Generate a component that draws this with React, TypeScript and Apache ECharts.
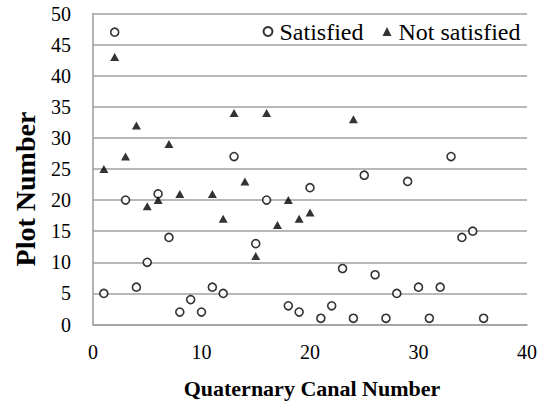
import React, { useEffect, useRef } from "react";
import * as echarts from "echarts";

// Satisfied (open circles): canal number vs plot number
const satisfiedX = [1, 2, 3, 4, 5, 6, 7, 8, 9, 10, 11, 12, 13, 15, 16, 18, 19, 20, 21, 22, 23, 24, 25, 26, 27, 28, 29, 30, 31, 32, 33, 34, 35, 36];
const satisfiedY = [5, 47, 20, 6, 10, 21, 14, 2, 4, 2, 6, 5, 27, 13, 20, 3, 2, 22, 1, 3, 9, 1, 24, 8, 1, 5, 23, 6, 1, 6, 27, 14, 15, 1];

// Not satisfied (filled triangles)
const notSatisfiedX = [1, 2, 3, 4, 5, 6, 7, 8, 11, 12, 13, 14, 15, 16, 17, 18, 19, 20, 24];
const notSatisfiedY = [25, 43, 27, 32, 19, 20, 29, 21, 21, 17, 34, 23, 11, 34, 16, 20, 17, 18, 33];

const seriesNames = ["Satisfied", "Not satisfied"];
const xTitle = "Quaternary Canal Number";
const yTitle = "Plot Number";

const FONT = "Liberation Serif";

export default function App() {
  const ref = useRef<HTMLDivElement>(null);

  useEffect(() => {
    if (!ref.current) return;
    const chart = echarts.init(ref.current, null, { renderer: "svg" });
    const sat = satisfiedX.map((x, i) => [x, satisfiedY[i]]);
    const notSat = notSatisfiedX.map((x, i) => [x, notSatisfiedY[i]]);
    chart.setOption({
      animation: false,
      backgroundColor: "#ffffff",
      textStyle: { fontFamily: FONT },
      grid: { left: 93, right: 19, top: 13.5, bottom: 76.5, containLabel: false },
      xAxis: {
        type: "value",
        min: 0,
        max: 40,
        interval: 10,
        axisLine: { show: true, lineStyle: { color: "#a0a0a0", width: 1.6 } },
        axisTick: { show: false },
        splitLine: { show: false },
        axisLabel: { color: "#000", fontFamily: FONT, fontSize: 20, margin: 17 },
      },
      yAxis: {
        type: "value",
        min: 0,
        max: 50,
        interval: 5,
        axisLine: { show: true, lineStyle: { color: "#a0a0a0", width: 1.6 } },
        axisTick: { show: false },
        splitLine: { show: true, lineStyle: { color: "#a0a0a0", width: 1.6 } },
        axisLabel: { color: "#000", fontFamily: FONT, fontSize: 20, margin: 22 },
      },
      legend: {
        left: 257.5,
        top: 14.5,
        itemWidth: 9,
        itemHeight: 9,
        itemGap: 19,
        textStyle: { color: "#000", fontFamily: FONT, fontSize: 24, padding: [0, 0, 0, 2] },
        data: [
          { name: seriesNames[0], icon: "circle" },
          { name: seriesNames[1], icon: "triangle" },
        ],
      },
      series: [
        {
          name: seriesNames[0],
          type: "scatter",
          data: sat,
          symbol: "circle",
          symbolSize: 8,
          itemStyle: { color: "#ffffff", borderColor: "#000", borderWidth: 1.6 },
        },
        {
          name: seriesNames[1],
          type: "scatter",
          data: notSat,
          symbol: "triangle",
          symbolSize: [9, 8],
          itemStyle: { color: "#000" },
        },
      ],
      graphic: [
        {
          type: "text",
          x: 312,
          y: 388,
          style: {
            text: xTitle,
            fill: "#000",
            font: `bold 22px "${FONT}"`,
            textAlign: "center",
            textVerticalAlign: "middle",
          },
        },
        {
          type: "text",
          x: 25,
          y: 189,
          rotation: Math.PI / 2,
          style: {
            text: yTitle,
            fill: "#000",
            font: `bold 28px "${FONT}"`,
            textAlign: "center",
            textVerticalAlign: "middle",
          },
        },
      ],
    });
    return () => chart.dispose();
  }, []);

  return <div ref={ref} style={{ width: 546, height: 401, position: "absolute", left: 0, top: 0 }} />;
}
